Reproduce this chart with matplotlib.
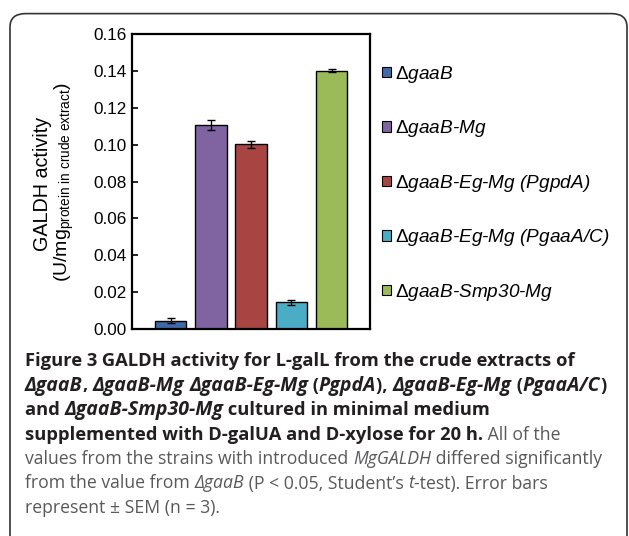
import matplotlib
matplotlib.use('Agg')
import matplotlib.pyplot as plt
from matplotlib.patches import FancyBboxPatch, Patch
from matplotlib.font_manager import FontProperties
import numpy as np

# data
strains = ['gaaB', 'gaaB-Mg', 'gaaB-Eg-Mg (PgpdA)', 'gaaB-Eg-Mg (PgaaA/C)', 'gaaB-Smp30-Mg']
activity = [0.0045, 0.1105, 0.1002, 0.0146, 0.1400]
sem = [0.0014, 0.0027, 0.0019, 0.0014, 0.0008]
colors = ['#3E6BA7', '#8064A2', '#A84542', '#4BACC6', '#9BBB59']
yticks = [0.00, 0.02, 0.04, 0.06, 0.08, 0.10, 0.12, 0.14, 0.16]

# caption, one list of (text, style) per line; b=bold, bi=bold italic, n=normal, i=italic
caption = [
    [('Figure 3', 'b'), (' GALDH activity for L-galL from the crude extracts of', 'b')],
    [('ΔgaaB', 'bi'), (', ', 'b'), ('ΔgaaB-Mg', 'bi'), (' ', 'b'), ('ΔgaaB-Eg-Mg', 'bi'), (' (', 'b'),
     ('PgpdA', 'bi'), ('), ', 'b'), ('ΔgaaB-Eg-Mg', 'bi'), (' (', 'b'), ('PgaaA/C', 'bi'), (')', 'b')],
    [('and ', 'b'), ('ΔgaaB-Smp30-Mg', 'bi'), (' cultured in minimal medium', 'b')],
    [('supplemented with D-galUA and D-xylose for 20 h.', 'b'), (' All of the', 'n')],
    [('values from the strains with introduced ', 'n'), ('MgGALDH', 'i'), (' differed significantly', 'n')],
    [('from the value from ', 'n'), ('ΔgaaB', 'i'), (' (P < 0.05, Student\u2019s ', 'n'), ('t', 'i'),
     ('-test). Error bars', 'n')],
    [('represent \u00b1 SEM (n = 3).', 'n')],
]

plt.rcParams['font.family'] = 'Liberation Sans'
plt.rcParams['mathtext.fontset'] = 'custom'
plt.rcParams['mathtext.rm'] = 'Liberation Sans'
plt.rcParams['mathtext.it'] = 'Liberation Sans:italic'

W, H = 629, 536
fig = plt.figure(figsize=(W / 100, H / 100), dpi=100)

# rounded panel frame
frame = FancyBboxPatch((10 / W, -0.1), 617 / W, (H + 40) / H, transform=fig.transFigure,
                       boxstyle='round,pad=0,rounding_size=0.025', facecolor='none',
                       edgecolor='#333333', linewidth=1.2)
fig.patches.append(frame)

ax = fig.add_axes([132 / W, 1 - 329 / H, 238 / W, 295 / H])
x = np.arange(len(strains))
ax.bar(x, activity, width=0.78, color=colors, edgecolor='black', linewidth=1.0, zorder=2)
ax.errorbar(x, activity, yerr=sem, fmt='none', ecolor='black', elinewidth=1.0,
            capsize=3, capthick=1.0, zorder=3)

ax.set_xlim(-0.96, 4.95)
ax.set_ylim(0, 0.16)
ax.set_xticks([])
ax.set_yticks(yticks)
ax.set_yticklabels([f'{v:.2f}' for v in yticks])
ax.tick_params(axis='y', direction='in', length=4.5, width=1.2, labelsize=12.3, pad=3.6)
for s in ax.spines.values():
    s.set_linewidth(1.6)

fig.text(42 / W, 1 - 184 / H, 'GALDH activity', rotation=90, ha='center', va='center', fontsize=14.2)
fig.text(64 / W, 1 - 182 / H, r'(U/mg$_{\mathrm{protein\ in\ crude\ extract}}$)', rotation=90,
         ha='center', va='center', fontsize=14)

handles = [Patch(facecolor=c, edgecolor='black', linewidth=0.8) for c in colors]
labels = [r'$\mathrm{\Delta}$' + s for s in strains]
leg = ax.legend(handles, labels, loc='upper left', bbox_to_anchor=(382 / W, 1 - 64 / H),
                bbox_transform=fig.transFigure, frameon=False,
                prop=FontProperties(family='Liberation Sans', style='italic', size=13.7),
                handlelength=0.47, handleheight=0.47, handletextpad=0.2, labelspacing=1.76,
                borderaxespad=0, borderpad=0)

# caption
fig.canvas.draw()
renderer = fig.canvas.get_renderer()
styles = {'b': ('bold', 'normal', '#231F20', 13.2), 'bi': ('bold', 'italic', '#231F20', 14.0),
          'n': ('normal', 'normal', '#58595B', 12.7), 'i': ('normal', 'italic', '#58595B', 12.7)}
baseline = 366
for line in caption:
    xpos = 25
    for txt, st in line:
        weight, style, col, fs = styles[st]
        prop = FontProperties(family='Open Sans', weight=weight, style=style, size=fs)
        fig.text(xpos / W, 1 - baseline / H, txt, fontproperties=prop, color=col, va='baseline')
        w1 = renderer.get_text_width_height_descent('|' + txt + '|', prop, ismath=False)[0]
        w0 = renderer.get_text_width_height_descent('||', prop, ismath=False)[0]
        xpos += (w1 - w0)
    baseline += 24.5

fig.savefig('out.png', dpi=100)
